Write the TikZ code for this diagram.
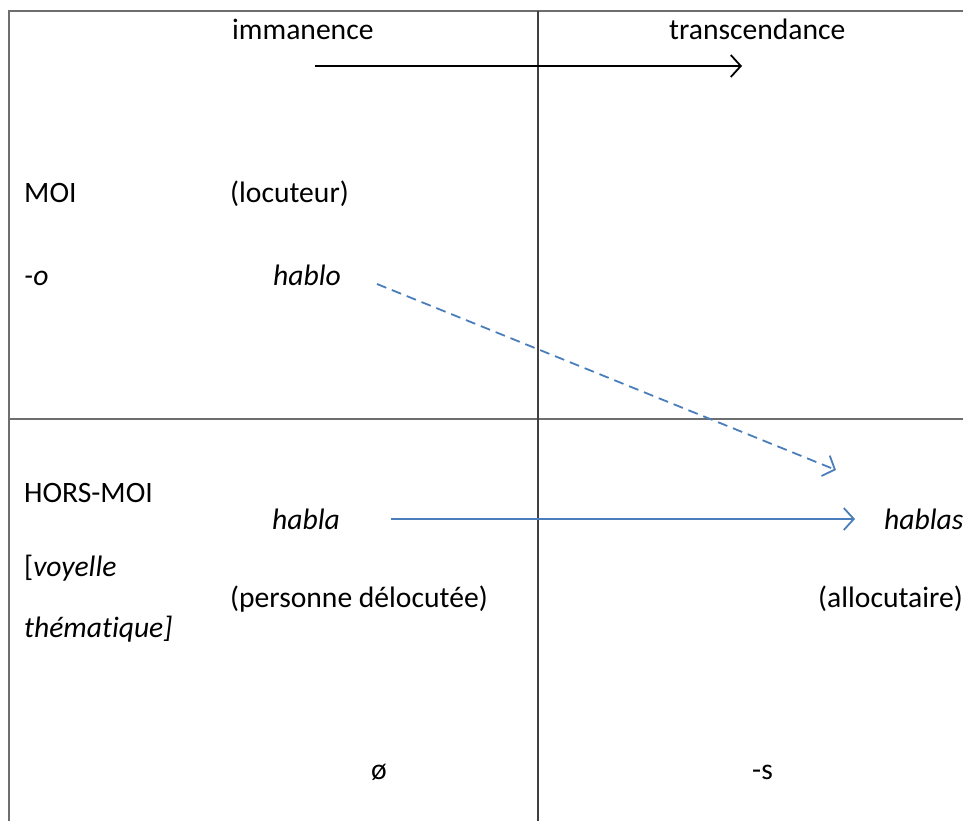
\documentclass[tikz,border=0pt]{standalone}
\usepackage{fontspec}
\setmainfont[Ligatures=CommonOff]{Carlito}
\usetikzlibrary{arrows.meta}
\definecolor{wordblue}{HTML}{4A7EBB}
\definecolor{framegray}{HTML}{6E6E6E}
\tikzset{
  lbl/.style={anchor=base west, inner sep=0pt, font=\fontsize{29.6}{35}\selectfont},
  ilbl/.style={lbl, font=\fontsize{29.6}{35}\selectfont\itshape},
  frame/.style={draw=framegray, line width=1.8pt},
  divider/.style={draw=black!75, line width=1.1pt},
  barb/.style={-{Straight Barb[length=10pt,width=22pt,line width=1.8pt]}},
}
\begin{document}
\begin{tikzpicture}[x=1pt,y=-1pt]
\useasboundingbox (0,0) rectangle (963,821);
% frame
\draw[frame] (963,11) -- (9,11) -- (9,821);
\draw[frame] (9,419) -- (963,419);
\draw[divider] (538,11) -- (538,821);
% header
\node[lbl] (imm) at (232,40) {immanence};
\node[lbl] (trans) at (669,40) {transcendance};
\coordinate (a1) at (315,66);
\coordinate (a2) at (742,66);
\draw[barb, line width=2pt] (a1) -- (a2);
% upper half
\node[lbl] (moi) at (24,203) {MOI};
\node[lbl] (loc) at (230,203) {(locuteur)};
\node[ilbl] (o) at (24,285) {-o};
\node[ilbl] (hablo) at (273,285) {hablo};
% lower half
\node[lbl] (hors) at (24,502) {HORS-MOI};
\node[ilbl] (habla) at (272,529) {habla};
\node[ilbl] (hablas) at (884,529) {hablas};
\node[lbl] (voy) at (24,576) {[\textit{voyelle}};
\node[ilbl] (them) at (24,637) {thématique]};
\node[lbl] (deloc) at (230,607) {(personne délocutée)};
\node[lbl] (alloc) at (818,607) {(allocutaire)};
\node[lbl] (zero) at (371,779) {ø};
\node[lbl] (s) at (752,779) {-s};
% blue arrows
\coordinate (d1) at (377,284);
\coordinate (d2) at (836,470);
\draw[barb, draw=wordblue, line width=1.8pt, dash pattern=on 10pt off 6pt] (d1) -- (d2);
\coordinate (h1) at (391,519);
\coordinate (h2) at (855,519);
\draw[barb, draw=wordblue, line width=1.8pt] (h1) -- (h2);
\end{tikzpicture}
\end{document}
